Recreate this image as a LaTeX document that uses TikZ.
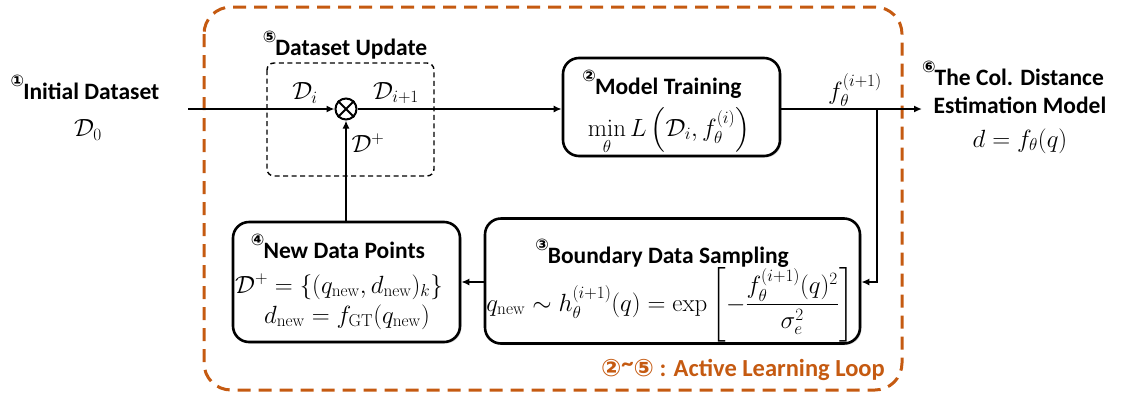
\documentclass[tikz,border=0pt]{standalone}
\usepackage{amsmath}
\usepackage[no-math]{fontspec}
\setmainfont{Carlito}
\newfontfamily\circfont{DejaVu Sans}
\usetikzlibrary{arrows.meta,shadows}
\definecolor{loopc}{HTML}{C55A11}
\newcommand{\cnum}[1]{{\circfont\fontsize{16}{16}\selectfont\raisebox{12.5pt}{#1}}\kern-1pt}
\tikzset{
  x=1pt, y=-1pt,
  ttl/.style={font=\fontsize{23.5}{28}\selectfont\bfseries, inner sep=0pt, anchor=base},
  mth/.style={font=\fontsize{24}{29}\selectfont, inner sep=0pt, anchor=base},
  mths/.style={font=\fontsize{23}{28}\selectfont, inner sep=0pt, anchor=base},
  lbl/.style={font=\fontsize{24.5}{29}\selectfont, inner sep=0pt},
  blockbox/.style={draw, line width=2.6pt, rounded corners=16pt, inner sep=0pt, fill=white,
    drop shadow={shadow xshift=1.5pt, shadow yshift=-1.5pt, opacity=0.3}},
  conn/.style={line width=2pt, -{Latex[length=8pt,width=7pt]}},
}
\begin{document}
\begin{tikzpicture}
\useasboundingbox (0,0) rectangle (1121,397);
% outer active learning loop
\draw[loopc, line width=3pt, dash pattern=on 13pt off 8pt, rounded corners=27pt] (204,7) rectangle (902,390);
% dataset update dashed box
\draw[line width=1.4pt, dash pattern=on 5pt off 3.5pt, rounded corners=7pt] (267,63) rectangle (434,176);
\node[ttl] (dutitle) at (345,55) {\cnum{⑤}Dataset Update};

% initial dataset
\node[ttl] (init) at (85,99) {\cnum{①}Initial Dataset};
\node[lbl] (d0) at (88,130) {$\mathcal{D}_0$};
\coordinate (start) at (188,109);

% model training
\node[blockbox, minimum width=217pt, minimum height=98pt] (train) at (671.5,107) {};
\node[ttl] (traint) at (662,94) {\cnum{②}Model Training};
\node[mth] (trainm) at (669,136) {$\displaystyle\min_{\theta} L\left(\mathcal{D}_i, f_{\theta}^{(i)}\right)$};

% boundary sampling
\node[blockbox, minimum width=375pt, minimum height=125pt] (bds) at (672.5,281) {};
\node[ttl] (bdst) at (662,263) {\cnum{③}Boundary Data Sampling};
\node[mths, font=\fontsize{23.5}{28}\selectfont] (bdsm) at (670,311) {$q_{\mathrm{new}} \sim h_{\theta}^{(i+1)}(q) = \exp\left[-\dfrac{f_{\theta}^{(i+1)}(q)^2}{\sigma_e^2}\right]$};

% new data points
\node[blockbox, minimum width=227pt, minimum height=120pt] (ndp) at (346.5,282) {};
\node[ttl] (ndpt) at (338,258) {\cnum{④}New Data Points};
\node[mths] (ndpm1) at (339,293) {$\mathcal{D}^{+} = \{(q_{\mathrm{new}}, d_{\mathrm{new}})_k\}$};
\node[mths] (ndpm2) at (347,323) {$d_{\mathrm{new}} = f_{\mathrm{GT}}(q_{\mathrm{new}})$};

% otimes
\node[circle, draw, line width=2pt, minimum size=21pt, inner sep=0pt, fill=white] (ox) at (346,109) {};
\draw[line width=2pt] (ox.north west) -- (ox.south east) (ox.north east) -- (ox.south west);

% output
\coordinate (branch) at (877,109);
\coordinate (bcorner) at (877,282);
\coordinate (outend) at (922,109);
\node[ttl] (outt) at (1013,85) {\cnum{⑥}The Col. Distance};
\node[ttl] (outt2) at (1020,113) {Estimation Model};
\node[lbl] (outm) at (1020,141) {$d = f_{\theta}(q)$};

% connectors
\draw[conn] (start) -- (ox.west);
\draw[conn] (ox.east) -- (train.west |- ox.east);
\draw[conn] (train.east |- branch) -- (outend);
\draw[conn] (branch) -- (bcorner) -- (bds.east |- bcorner);
\draw[conn] (bds.west |- bcorner) -- (ndp.east |- bcorner);
\draw[conn] (ndp.north -| ox.south) -- (ox.south);

% labels
\node[lbl] (lDi) at (305,93) {$\mathcal{D}_i$};
\node[lbl] (lDi1) at (396,93) {$\mathcal{D}_{i+1}$};
\node[lbl] (lDp) at (368,143) {$\mathcal{D}^{+}$};
\node[lbl] (lf) at (855,90) {$f_{\theta}^{(i+1)}$};

% loop label
\node[loopc, font=\fontsize{24.5}{29}\selectfont\bfseries, inner sep=0pt, anchor=base east] (looplbl) at (885,376) {{\circfont\fontsize{24}{24}\selectfont ②}\raisebox{5pt}{\textasciitilde}{\circfont\fontsize{24}{24}\selectfont ⑤} : Active Learning Loop};
\end{tikzpicture}
\end{document}
